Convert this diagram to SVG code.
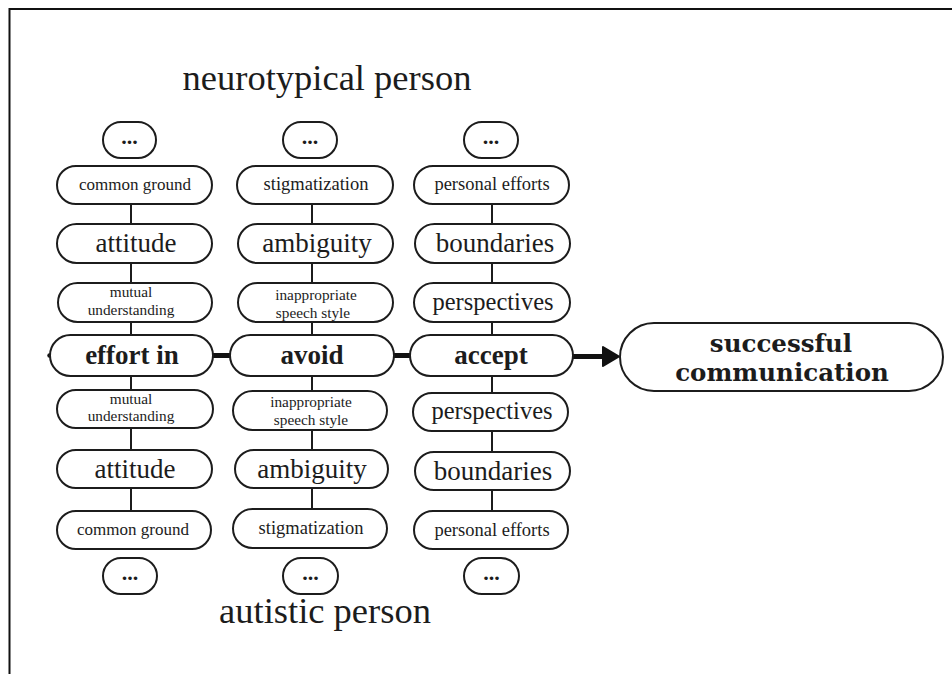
<svg xmlns="http://www.w3.org/2000/svg" width="952" height="674" viewBox="0 0 952 674">
<style>
.p{fill:#fff;stroke:#1c1c1c;stroke-width:2}
.t{font-family:"Liberation Serif","Times New Roman",serif;fill:#1c1c1c;text-anchor:middle}
.s{font-size:17px}
.w{font-size:15.3px}
.m{font-size:27px}
.b{font-size:27px;font-weight:bold}
.d{font-size:22px;font-weight:bold}
.g{font-family:"DejaVu Serif",serif;font-size:24.5px;font-weight:bold}
.c{stroke:#1c1c1c;stroke-width:2;fill:none}
.h{stroke:#111;stroke-width:5;fill:none}
</style>
<rect x="0" y="0" width="952" height="674" fill="#fff"/>
<path d="M9.5 674V9H952" fill="none" stroke="#111" stroke-width="2"/>
<text class="t" x="327" y="90" font-size="36.5">neurotypical person</text>
<text class="t" x="325" y="623" font-size="36.5">autistic person</text>
<g id="connectors">
<path class="c" d="M131 204V224M131 263V283M131 322V335M131 376V390M131 428V450M131 488V511"/>
<path class="c" d="M312 204V224M312 263V283M312 322V335M312 376V391M312 430V450M312 488V509"/>
<path class="c" d="M492 204V224M492 263V283M492 322V335M492 376V393M492 431V452M492 490V511"/>
<path class="h" d="M213 355.5H230M394 355.5H410M573 356.5H606"/>
<path d="M603 347L619 356.5L603 366Z" fill="#111" stroke="#111" stroke-width="2" stroke-linejoin="round"/>
<circle cx="49.5" cy="355.5" r="2.2" fill="#111"/>
</g>
<g id="n1-dots-top"><rect class="p" x="103" y="122" width="53" height="36" rx="18"/><text class="t d" x="129.5" y="144">...</text></g>
<g id="n1-common-ground-top"><rect class="p" x="57" y="166" width="155" height="38" rx="19"/><text class="t s" x="135" y="190">common ground</text></g>
<g id="n1-attitude-top"><rect class="p" x="57" y="224" width="155" height="39" rx="19.5"/><text class="t m" x="136" y="252">attitude</text></g>
<g id="n1-mutual-top"><rect class="p" x="58" y="283" width="154" height="39" rx="19.5"/><text class="t w" x="131" y="297">mutual</text><text class="t w" x="131" y="314.5">understanding</text></g>
<g id="n1-effort-in"><rect class="p" x="50" y="335" width="163" height="41" rx="20.5"/><text class="t b" x="132" y="364">effort in</text></g>
<g id="n1-mutual-bottom"><rect class="p" x="57" y="390" width="156" height="38" rx="19"/><text class="t w" x="131" y="403.5">mutual</text><text class="t w" x="131" y="421">understanding</text></g>
<g id="n1-attitude-bottom"><rect class="p" x="57" y="450" width="155" height="38" rx="19"/><text class="t m" x="135" y="478">attitude</text></g>
<g id="n1-common-ground-bottom"><rect class="p" x="57" y="511" width="154" height="38" rx="19"/><text class="t s" x="133" y="535">common ground</text></g>
<g id="n1-dots-bottom"><rect class="p" x="103" y="558" width="54" height="36" rx="18"/><text class="t d" x="130" y="580">...</text></g>

<g id="n2-dots-top"><rect class="p" x="283" y="122" width="54" height="36" rx="18"/><text class="t d" x="310" y="144">...</text></g>
<g id="n2-stigmatization-top"><rect class="p" x="237" y="166" width="156" height="38" rx="19"/><text class="t" x="316" y="190" font-size="18.5">stigmatization</text></g>
<g id="n2-ambiguity-top"><rect class="p" x="238" y="224" width="155" height="39" rx="19.5"/><text class="t m" x="317" y="252">ambiguity</text></g>
<g id="n2-inappropriate-top"><rect class="p" x="238" y="283" width="155" height="39" rx="19.5"/><text class="t w" x="316" y="300">inappropriate</text><text class="t w" x="313" y="317.5">speech style</text></g>
<g id="n2-avoid"><rect class="p" x="230" y="335" width="164" height="41" rx="20.5"/><text class="t b" x="312" y="364">avoid</text></g>
<g id="n2-inappropriate-bottom"><rect class="p" x="233" y="391" width="154" height="39" rx="19.5"/><text class="t w" x="311" y="407">inappropriate</text><text class="t w" x="311" y="424.5">speech style</text></g>
<g id="n2-ambiguity-bottom"><rect class="p" x="235" y="450" width="153" height="38" rx="19"/><text class="t m" x="312" y="478">ambiguity</text></g>
<g id="n2-stigmatization-bottom"><rect class="p" x="233" y="509" width="154" height="39" rx="19.5"/><text class="t" x="311" y="534" font-size="18.5">stigmatization</text></g>
<g id="n2-dots-bottom"><rect class="p" x="283" y="558" width="55" height="36" rx="18"/><text class="t d" x="310.5" y="580">...</text></g>

<g id="n3-dots-top"><rect class="p" x="464" y="122" width="54" height="36" rx="18"/><text class="t d" x="491" y="144">...</text></g>
<g id="n3-personal-efforts-top"><rect class="p" x="414" y="166" width="155" height="38" rx="19"/><text class="t" x="492" y="190" font-size="18.5">personal efforts</text></g>
<g id="n3-boundaries-top"><rect class="p" x="415" y="224" width="155" height="39" rx="19.5"/><text class="t m" x="495" y="252">boundaries</text></g>
<g id="n3-perspectives-top"><rect class="p" x="414" y="283" width="156" height="39" rx="19.5"/><text class="t" x="493" y="310" font-size="24.5">perspectives</text></g>
<g id="n3-accept"><rect class="p" x="410" y="335" width="163" height="41" rx="20.5"/><text class="t b" x="491" y="364">accept</text></g>
<g id="n3-perspectives-bottom"><rect class="p" x="413" y="393" width="155" height="38" rx="19"/><text class="t" x="492" y="419" font-size="24.5">perspectives</text></g>
<g id="n3-boundaries-bottom"><rect class="p" x="415" y="452" width="155" height="38" rx="19"/><text class="t m" x="493" y="480">boundaries</text></g>
<g id="n3-personal-efforts-bottom"><rect class="p" x="414" y="511" width="154" height="38" rx="19"/><text class="t" x="492" y="536" font-size="18.5">personal efforts</text></g>
<g id="n3-dots-bottom"><rect class="p" x="464" y="558" width="55" height="36" rx="18"/><text class="t d" x="491.5" y="580">...</text></g>

<g id="successful-communication"><rect class="p" x="620" y="323" width="323" height="68" rx="34"/><text class="t g" x="781" y="352">successful</text><text class="t g" x="782" y="381">communication</text></g>
</svg>
